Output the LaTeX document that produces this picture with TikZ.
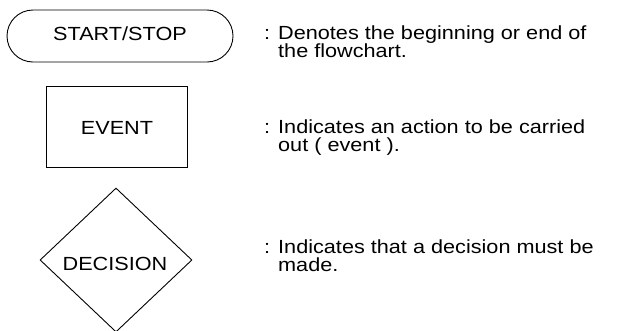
\documentclass[tikz,border=0pt]{standalone}
\usepackage{fontspec}
\setmainfont[FakeStretch=1.14]{Liberation Sans}
\usetikzlibrary{shapes.geometric}
\begin{document}
\begin{tikzpicture}[x=1pt,y=-1pt,
  lbl/.style={font=\fontsize{19}{21}\selectfont, inner sep=0pt, anchor=base},
  desc/.style={font=\fontsize{19}{21}\selectfont, inner sep=0pt, anchor=base west},
  shp/.style={draw, line width=0.9pt}]
\useasboundingbox (0,0) rectangle (620,330);
\clip (0,0) rectangle (620,330);
% START/STOP terminal
\node[shp, rounded corners=26pt, minimum width=226pt, minimum height=52pt] (term) at (120,36) {};
\node[lbl] (termt) at (120,40) {START/STOP};
% EVENT box
\node[shp, minimum width=141pt, minimum height=81pt] (evt) at (116.5,126.5) {};
\node[lbl] (evtt) at (117,134) {EVENT};
% DECISION diamond
\node[shp, diamond, minimum width=152pt, minimum height=144pt, inner sep=0pt] (dec) at (116,260) {};
\node[lbl] (dect) at (115,270) {DECISION};
% descriptions
\node[desc] (c1) at (264,39) {:};
\node[desc] (d1a) at (278,39) {Denotes the beginning or end of};
\node[desc] (d1b) at (278,57) {the flowchart.};
\node[desc] (c2) at (264,133) {:};
\node[desc] (d2a) at (278,133) {Indicates an action to be carried};
\node[desc] (d2b) at (278,151) {out ( event ).};
\node[desc] (c3) at (264,253.5) {:};
\node[desc] (d3a) at (278,253.5) {Indicates that a decision must be};
\node[desc] (d3b) at (278,271.5) {made.};
\end{tikzpicture}
\end{document}
